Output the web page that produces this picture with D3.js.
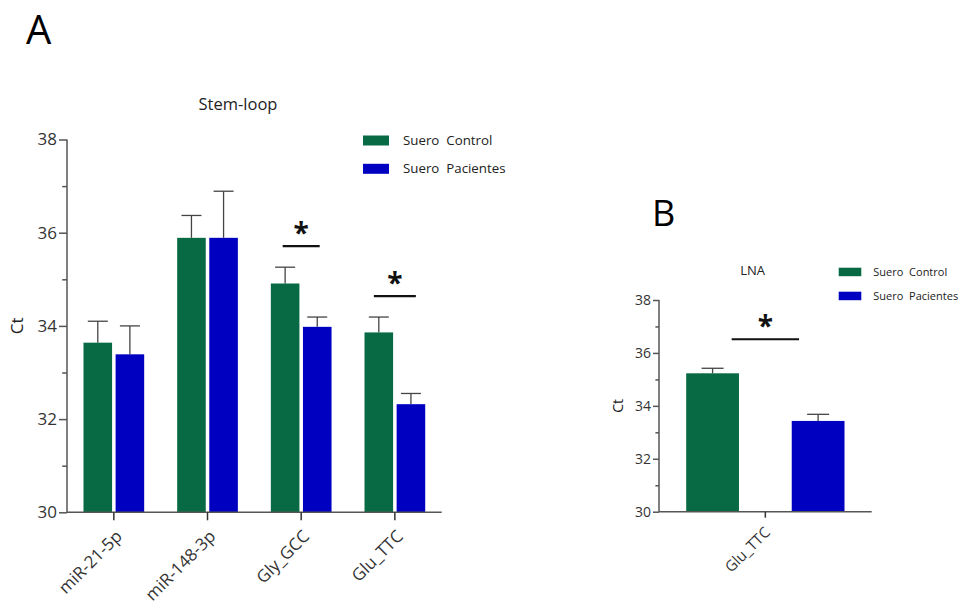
<!DOCTYPE html>
<html>
<head>
<meta charset="utf-8">
<script src="https://cdn.jsdelivr.net/npm/d3@7"></script>
<style>
  body { margin: 0; background: #fff; }
  text { font-family: "Open Sans", "DejaVu Sans", sans-serif; fill: #222; }
</style>
</head>
<body>
<svg id="chart" width="962" height="608"></svg>
<script>
// data
var groupsA = ["miR-21-5p", "miR-148-3p", "Gly_GCC", "Glu_TTC"];
var series = ["Suero  Control", "Suero  Pacientes"];
var controlA = [33.64, 35.89, 34.91, 33.86];
var controlErrA = [0.46, 0.48, 0.35, 0.33];
var pacientesA = [33.39, 35.89, 33.98, 32.32];
var pacientesErrA = [0.61, 1.0, 0.21, 0.23];
var sigA = ["Gly_GCC", "Glu_TTC"];

var groupsB = ["Glu_TTC"];
var controlB = [35.23];
var controlErrB = [0.19];
var pacientesB = [33.43];
var pacientesErrB = [0.25];

var yTicks = [30, 32, 34, 36, 38];
var yMinor = [31, 33, 35, 37];
var colors = ["#086a44", "#0000c0"];

var svg = d3.select("#chart");

function panel(opt) {
  var g = svg.append("g");
  var y = d3.scaleLinear().domain([30, 38]).range([opt.bottom, opt.top]);
  var x = d3.scaleBand().domain(opt.groups).range([opt.left, opt.right]).paddingInner(0).paddingOuter(0);
  var xi = d3.scaleBand().domain(series)
    .range([x.bandwidth() / 2 - opt.groupW / 2, x.bandwidth() / 2 + opt.groupW / 2])
    .paddingInner(opt.inner);

  var rows = [];
  opt.groups.forEach(function(c, i) {
    rows.push({ cat: c, s: series[0], v: opt.ctrl[i], e: opt.ctrlErr[i], col: colors[0] });
    rows.push({ cat: c, s: series[1], v: opt.pac[i], e: opt.pacErr[i], col: colors[1] });
  });

  // error bars (upper only)
  g.selectAll(".err").data(rows).enter().append("g").each(function(d) {
    var cx = x(d.cat) + xi(d.s) + xi.bandwidth() / 2;
    var e = d3.select(this);
    e.append("line").attr("x1", cx).attr("x2", cx).attr("y1", y(d.v)).attr("y2", y(d.v + d.e))
      .attr("stroke", "#444").attr("stroke-width", 1.3);
    e.append("line").attr("x1", cx - opt.cap).attr("x2", cx + opt.cap).attr("y1", y(d.v + d.e)).attr("y2", y(d.v + d.e))
      .attr("stroke", "#444").attr("stroke-width", 1.3);
  });

  g.selectAll(".bar").data(rows).enter().append("rect")
    .attr("x", function(d) { return x(d.cat) + xi(d.s); })
    .attr("y", function(d) { return y(d.v); })
    .attr("width", xi.bandwidth())
    .attr("height", function(d) { return y(30) - y(d.v); })
    .attr("fill", function(d) { return d.col; });

  // y axis
  var ya = g.append("g").attr("transform", "translate(" + opt.left + ",0)")
    .call(d3.axisLeft(y).tickValues(yTicks).tickSize(opt.tick).tickPadding(2).tickFormat(d3.format("d")));
  ya.selectAll(".tick text").style("font-size", opt.tickFont + "px").style("fill", "#333");
  ya.select(".domain").attr("stroke", "#555").attr("stroke-width", 1.5).attr("d", "M0," + opt.bottom + "V" + opt.top);
  ya.selectAll(".tick line").attr("stroke", "#555").attr("stroke-width", 1.5);
  g.append("g").attr("transform", "translate(" + opt.left + ",0)")
    .call(d3.axisLeft(y).tickValues(yMinor).tickSize(opt.tick * 0.6).tickFormat(""))
    .call(function(s) { s.select(".domain").remove(); s.selectAll("line").attr("stroke", "#555").attr("stroke-width", 1.5); });

  // x axis
  var xa = g.append("g").attr("transform", "translate(0," + opt.bottom + ")")
    .call(d3.axisBottom(x).tickSize(opt.tick).tickSizeOuter(0));
  xa.select(".domain").attr("stroke", "#555").attr("stroke-width", 1.5).attr("d", "M" + opt.left + ",0H" + opt.right);
  xa.selectAll(".tick line").attr("stroke", "#333").attr("stroke-width", 1.5);
  xa.selectAll(".tick text")
    .style("font-size", opt.xFont + "px").style("fill", "#333")
    .attr("text-anchor", "end").attr("dy", "0.35em")
    .attr("transform", "translate(" + opt.xShift + "," + opt.xDrop + ") rotate(-45)")
    .attr("y", 0).attr("x", 0);

  // axis title
  g.append("text").text("Ct")
    .attr("transform", "translate(" + opt.ctX + "," + y(34) + ") rotate(-90)")
    .attr("text-anchor", "middle").attr("dy", "0.35em")
    .style("font-size", opt.tickFont + "px");

  // chart title
  g.append("text").text(opt.title).attr("x", opt.titleX).attr("y", opt.titleY)
    .attr("text-anchor", "middle").style("font-size", opt.titleFont + "px");

  // legend
  series.forEach(function(s, i) {
    g.append("rect").attr("x", opt.legX).attr("y", opt.legY + i * opt.legStep)
      .attr("width", opt.legW).attr("height", opt.legH).attr("fill", colors[i]);
    g.append("text").text(s).attr("x", opt.legX + opt.legW + opt.legGap)
      .attr("y", opt.legY + i * opt.legStep + opt.legH / 2).attr("dy", "0.35em")
      .style("font-size", opt.legFont + "px").style("white-space", "pre").attr("xml:space", "preserve");
  });

  // significance marks
  opt.sig.forEach(function(s) {
    var i = opt.groups.indexOf(s.cat);
    var top = Math.max(opt.ctrl[i] + opt.ctrlErr[i], opt.pac[i] + opt.pacErr[i]);
    var ly = y(top) - s.gap;
    var cx = x(s.cat) + x.bandwidth() / 2;
    g.append("line").attr("x1", cx - s.half).attr("x2", cx + s.half).attr("y1", ly).attr("y2", ly)
      .attr("stroke", "#111").attr("stroke-width", 2.2);
    g.append("text").text("*").attr("x", cx).attr("y", ly - 3)
      .attr("text-anchor", "middle").style("font-size", opt.starFont + "px").style("font-weight", "bold")
      .style("fill", "#111");
  });
  return g;
}

panel({
  groups: groupsA, ctrl: controlA, ctrlErr: controlErrA, pac: pacientesA, pacErr: pacientesErrA,
  left: 67, right: 441.7, top: 139.5, bottom: 512.3, groupW: 60.7, inner: 0.11, cap: 10,
  tick: 8, tickFont: 17, xFont: 17, xDrop: 21, xShift: 5, ctX: 17,
  title: "Stem-loop", titleX: 238, titleY: 110, titleFont: 16.5,
  legX: 363, legY: 135.5, legStep: 28.3, legW: 26, legH: 10, legGap: 14, legFont: 13.3,
  sig: sigA.map(function(c) { return { cat: c, gap: 21, half: c === "Gly_GCC" ? 18.5 : 21 }; }),
  starFont: 28
});

panel({
  groups: groupsB, ctrl: controlB, ctrlErr: controlErrB, pac: pacientesB, pacErr: pacientesErrB,
  left: 659, right: 871.7, top: 300, bottom: 511.7, groupW: 158.3, inner: 0.5, cap: 11,
  tick: 6, tickFont: 14, xFont: 15, xDrop: 18, xShift: 2, ctX: 618,
  title: "LNA", titleX: 752.7, titleY: 275, titleFont: 13,
  legX: 838.7, legY: 267.7, legStep: 24, legW: 22.6, legH: 8.5, legGap: 12, legFont: 11,
  sig: [{ cat: "Glu_TTC", gap: 29, half: 33.7 }],
  starFont: 28
});

// panel letters
svg.append("text").text("A").attr("x", 26).attr("y", 44).style("font-size", "40px").style("fill", "#000");
svg.append("text").text("B").attr("x", 652).attr("y", 226).style("font-size", "36px").style("fill", "#000");
</script>
</body>
</html>
